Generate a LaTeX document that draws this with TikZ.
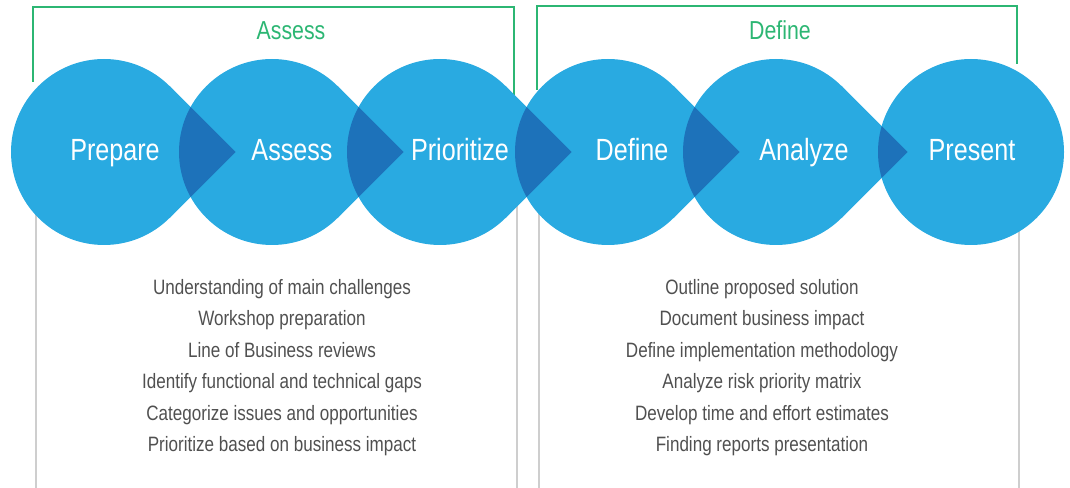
\documentclass[tikz,border=0pt]{standalone}
\usepackage{fontspec}
\setmainfont{Liberation Sans}[FakeStretch=0.82]
\definecolor{stageblue}{RGB}{41,170,225}
\definecolor{stagedark}{RGB}{29,114,186}
\definecolor{phasegreen}{RGB}{44,182,115}
\definecolor{railgray}{RGB}{206,206,206}
\definecolor{listgray}{RGB}{80,80,80}
\begin{document}
\begin{tikzpicture}[x=0.75pt,y=-0.75pt,
    stagelabel/.style={text=white,anchor=base,font=\fontsize{23}{27}\selectfont},
    phaselabel/.style={text=phasegreen,anchor=base,font=\fontsize{19.5}{23}\selectfont},
    listitem/.style={text=listgray,anchor=base,font=\fontsize{15.6}{19}\selectfont},
    rail/.style={railgray,line width=1.6pt},
    bracket/.style={phasegreen,line width=1.8pt}]
       \useasboundingbox (0,0) rectangle (1070,488);
       % grey rails under the stages
       \foreach \x in {36,517,539,1019} \draw[rail] (\x,200) -- (\x,488);
       % green phase brackets
       \draw[bracket] (33,82) -- (33,7) -- (514,7) -- (514,97);
       \draw[bracket] (537,90) -- (537,6) -- (1017,6) -- (1017,64);
       \node[phaselabel] (assessphase) at (291,40) {Assess};
       \node[phaselabel] (definephase) at (780,40) {Define};
       % stage shapes
       \foreach \cx in {104,272,440,608,776} {
         \fill[stageblue] (\cx,152) circle (93);
         \fill[stageblue] (\cx+65.8,86.2) -- (\cx+131.5,152) -- (\cx+65.8,217.8) -- cycle;
       }
       \fill[stageblue] (971,152) circle (93);
       % overlaps
       \foreach \cx/\nx in {104/272,272/440,440/608,608/776,776/971} {
         \begin{scope}
           \clip (\nx,152) circle (93);
           \fill[stagedark] (\cx+65.8,86.2) -- (\cx+131.5,152) -- (\cx+65.8,217.8) -- cycle;
         \end{scope}
       }
       % stage names
       \node[stagelabel] (prepare) at (115,161) {Prepare};
       \node[stagelabel] (assess) at (292,161) {Assess};
       \node[stagelabel] (prioritize) at (460,161) {Prioritize};
       \node[stagelabel] (define) at (632,161) {Define};
       \node[stagelabel] (analyze) at (804,161) {Analyze};
       \node[stagelabel] (present) at (972,161) {Present};
       % activities
       \foreach \t [count=\i] in {Understanding of main challenges,Workshop preparation,Line of Business reviews,Identify functional and technical gaps,Categorize issues and opportunities,Prioritize based on business impact}
         \node[listitem] (assessitem\i) at (282,294+31.5*\i-31.5) {\t};
       \foreach \t [count=\i] in {Outline proposed solution,Document business impact,Define implementation methodology,Analyze risk priority matrix,Develop time and effort estimates,Finding reports presentation}
         \node[listitem] (defineitem\i) at (762,294+31.5*\i-31.5) {\t};
\end{tikzpicture}
\end{document}
